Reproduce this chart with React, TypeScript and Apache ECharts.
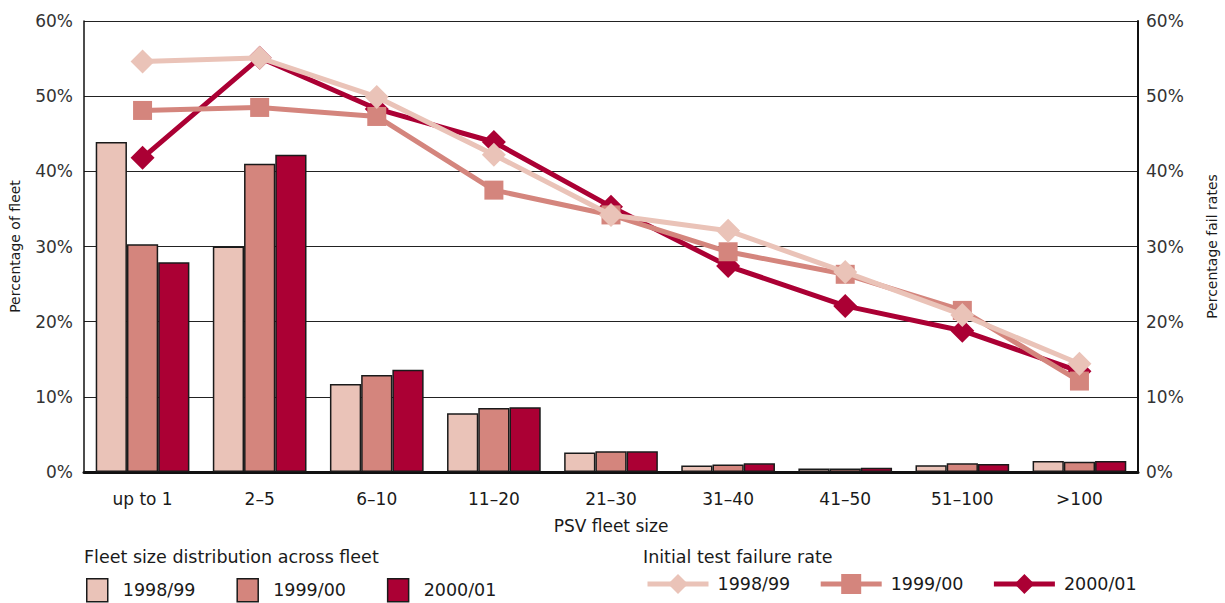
import React, { useEffect, useRef } from "react";
import * as echarts from "echarts";

const categories = ["up to 1", "2–5", "6–10", "11–20", "21–30", "31–40", "41–50", "51–100", ">100"];
const years = ["1998/99", "1999/00", "2000/01"];
const colors = ["#EAC3B8", "#D4857D", "#AB0034"];

// Share of the PSV fleet in each fleet-size band (%)
const fleet9899 = [43.9, 30.0, 11.7, 7.8, 2.6, 0.85, 0.45, 0.9, 1.45];
const fleet9900 = [30.3, 41.0, 12.9, 8.5, 2.75, 1.0, 0.45, 1.15, 1.35];
const fleet0001 = [27.9, 42.2, 13.6, 8.6, 2.75, 1.15, 0.55, 1.05, 1.45];

// Initial test failure rate by fleet-size band (%)
const fail9899 = [54.6, 55.1, 49.9, 42.2, 34.2, 32.1, 26.6, 20.9, 14.4];
const fail9900 = [48.1, 48.5, 47.3, 37.5, 34.2, 29.3, 26.3, 21.5, 12.1];
const fail0001 = [41.8, 55.1, 48.3, 43.9, 35.3, 27.4, 22.1, 18.8, 13.4];

const yTicks = [0, 10, 20, 30, 40, 50, 60];

const FONT = "'DejaVu Sans', sans-serif";
const TEXT = "#1a1a1a";
const FS = 17;
const FS_LEGEND = 17.5;

export default function App() {
  const ref = useRef<HTMLDivElement>(null);

  useEffect(() => {
    document.body.style.margin = "0";
    const chart = echarts.init(ref.current!, undefined, { renderer: "svg" });

    const fleetSets = [fleet9899, fleet9900, fleet0001];
    const failSets = [fail9899, fail9900, fail0001];

    const barSeries = years.map((y, i) => ({
      name: "fleet " + y,
      type: "bar",
      yAxisIndex: 0,
      data: fleetSets[i],
      barGap: "0%",
      barCategoryGap: "20%",
      itemStyle: { color: colors[i], borderColor: "#1a1a1a", borderWidth: 1.5 },
      z: 2,
    }));

    const symbols = ["diamond", "rect", "diamond"];
    const symbolSizes = [24, 19, 24];
    const lineZ = [5, 4, 3];
    const lineSeries = years.map((y, i) => ({
      name: "fail " + y,
      type: "line",
      yAxisIndex: 1,
      data: failSets[i],
      symbol: symbols[i],
      symbolSize: symbolSizes[i],
      showAllSymbol: true,
      lineStyle: { color: colors[i], width: 5 },
      itemStyle: { color: colors[i] },
      z: lineZ[i],
    }));

    const yAxisBase = {
      type: "value",
      min: 0,
      max: 60,
      interval: 10,
      nameLocation: "middle",
      nameTextStyle: { fontFamily: FONT, fontSize: 14, color: TEXT },
      axisTick: { show: false },
      axisLabel: {
        fontFamily: FONT,
        fontSize: FS,
        color: "#333",
        formatter: (v: number) => (yTicks.includes(v) ? v + "%" : ""),
      },
    };

    const nameOf = (n: string) => n.replace(/^(fleet|fail) /, "");

    chart.setOption({
      animation: false,
      textStyle: { fontFamily: FONT },
      grid: {
        left: 84,
        right: 87,
        top: 21,
        bottom: 131,
        containLabel: false,
        outerBoundsMode: "none",
      },
      xAxis: {
        type: "category",
        data: categories,
        name: "PSV fleet size",
        nameLocation: "middle",
        nameGap: 45,
        nameTextStyle: { fontFamily: FONT, fontSize: FS, color: TEXT },
        axisLine: { lineStyle: { color: "#111", width: 3 } },
        axisTick: { show: false },
        axisLabel: { fontFamily: FONT, fontSize: FS, color: TEXT, margin: 18 },
      },
      yAxis: [
        {
          ...yAxisBase,
          position: "left",
          name: "Percentage of fleet",
          nameGap: 62,
          axisLine: { show: true, lineStyle: { color: "#111", width: 1.5 } },
          axisLabel: { ...yAxisBase.axisLabel, margin: 11 },
          splitLine: { show: true, lineStyle: { color: "#222", width: 1.2 } },
        },
        {
          ...yAxisBase,
          position: "right",
          name: "Percentage fail rates",
          nameGap: 67,
          axisLine: { show: true, lineStyle: { color: "#111", width: 2 } },
          axisLabel: { ...yAxisBase.axisLabel, margin: 8 },
          splitLine: { show: false },
        },
      ],
      legend: [
        {
          data: years.map((y) => "fleet " + y),
          left: 86,
          top: 578,
          padding: 0,
          itemWidth: 21,
          itemHeight: 23,
          itemGap: 41,
          icon: "rect",
          itemStyle: { borderColor: "#1a1a1a", borderWidth: 1.5 },
          formatter: nameOf,
          textStyle: { fontFamily: FONT, fontSize: FS_LEGEND, color: TEXT, padding: [0, 0, 0, 10] },
          selectedMode: false,
        },
        {
          data: years.map((y) => "fail " + y),
          left: 645,
          top: 574,
          padding: 0,
          itemWidth: 61,
          itemHeight: 25,
          itemGap: 28,
          lineStyle: { width: 5 },
          formatter: nameOf,
          textStyle: { fontFamily: FONT, fontSize: FS_LEGEND, color: TEXT, padding: [0, 0, 0, 4] },
          selectedMode: false,
        },
      ],
      graphic: [
        {
          type: "text",
          left: 84,
          top: 548,
          style: { text: "Fleet size distribution across fleet", fontFamily: FONT, fontSize: FS_LEGEND, fill: TEXT },
        },
        {
          type: "text",
          left: 643,
          top: 548,
          style: { text: "Initial test failure rate", fontFamily: FONT, fontSize: FS_LEGEND, fill: TEXT },
        },
      ],
      series: [...barSeries, ...lineSeries],
    });

    return () => chart.dispose();
  }, []);

  return (
    <div
      ref={ref}
      style={{ position: "absolute", left: 0, top: 0, width: 1225, height: 603, background: "#fff" }}
    />
  );
}
